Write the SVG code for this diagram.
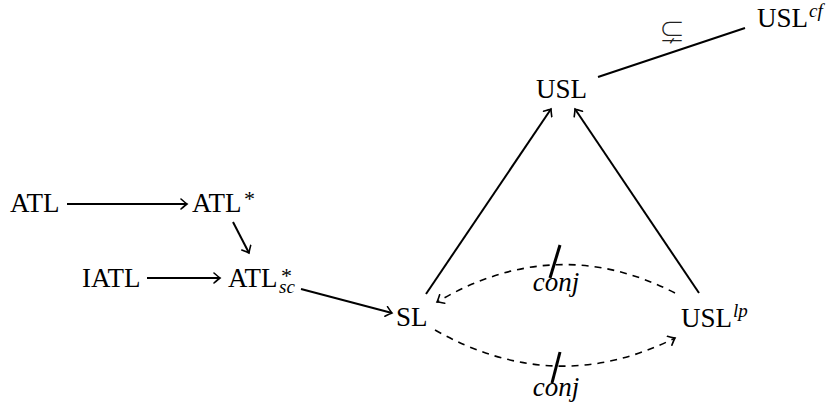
<svg xmlns="http://www.w3.org/2000/svg" width="827" height="408" viewBox="0 0 827 408">
<defs>
<style>
text{font-family:"Liberation Serif","DejaVu Serif",serif;fill:#000}
.n{font-size:27px}
.s{font-size:19px}
.t{font-size:22px}
.i{font-style:italic}
.e{fill:none;stroke:#000;stroke-width:2}
.d{fill:none;stroke:#000;stroke-width:1.6;stroke-dasharray:7 6}
.x{stroke:#000;stroke-width:3;fill:none}
</style>
<marker id="a" viewBox="-8 -6 10 12" markerWidth="10" markerHeight="12" refX="0" refY="0" orient="auto" markerUnits="userSpaceOnUse">
<path d="M-6,-5 Q-1.5,-1 0,0 Q-1.5,1 -6,5" fill="none" stroke="#000" stroke-width="1.6" stroke-linecap="round"/>
</marker>
</defs>
<rect width="827" height="408" fill="#fff"/>
<g id="connectors">
<line class="e" x1="67" y1="204" x2="187" y2="204" marker-end="url(#a)"/>
<line class="e" x1="233" y1="222" x2="249" y2="253" marker-end="url(#a)"/>
<line class="e" x1="147" y1="278" x2="220" y2="278" marker-end="url(#a)"/>
<line class="e" x1="301" y1="289" x2="392" y2="313" marker-end="url(#a)"/>
<line class="e" x1="426" y1="294" x2="551" y2="109" marker-end="url(#a)"/>
<line class="e" x1="699" y1="293" x2="575" y2="109" marker-end="url(#a)"/>
<line class="e" x1="598" y1="77" x2="745" y2="28"/>
<text x="672" y="42" text-anchor="middle" style="font-family:'Noto Sans CJK JP','DejaVu Sans',sans-serif;font-weight:300;font-size:26px;fill:#222">⊊</text>
<path class="d" d="M675,293 Q556,232 437,302" marker-end="url(#a)"/>
<path class="d" d="M435,330 Q555,398 675,338" marker-end="url(#a)"/>
<line class="x" x1="560" y1="245" x2="550" y2="278"/>
<line class="x" x1="560" y1="352" x2="552" y2="383"/>
<text class="n i" x="556" y="291" text-anchor="middle">conj</text>
<text class="n i" x="556" y="396" text-anchor="middle">conj</text>
</g>
<g id="ATL"><text class="n" x="10" y="212">ATL</text></g>
<g id="ATLstar"><text class="n" x="192" y="212">ATL</text><text class="t" x="244" y="206">*</text></g>
<g id="IATL"><text class="n" x="82" y="287">IATL</text></g>
<g id="ATLsc"><text class="n" x="228" y="287">ATL</text><text class="t" x="281" y="283">*</text><text class="s i" x="279" y="293">sc</text></g>
<g id="SL"><text class="n" x="396" y="326">SL</text></g>
<g id="USL"><text class="n" x="536" y="98">USL</text></g>
<g id="USLcf"><text class="n" x="757" y="27">USL</text><text class="s i" x="809" y="17">cf</text></g>
<g id="USLlp"><text class="n" x="681" y="327">USL</text><text class="s i" x="733" y="317">lp</text></g>
</svg>
